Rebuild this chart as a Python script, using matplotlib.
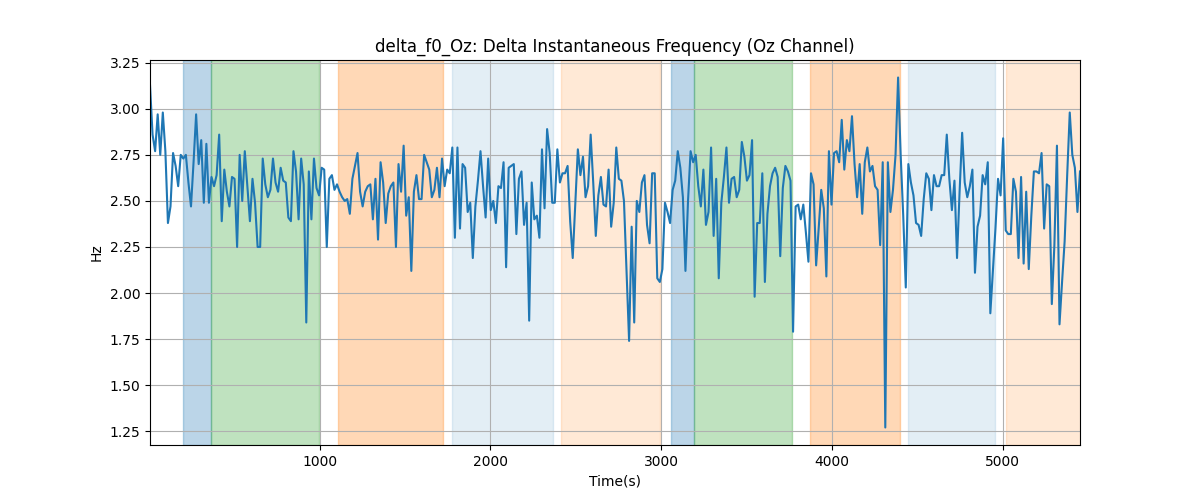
import numpy as np
import matplotlib
matplotlib.use('Agg')
import matplotlib.pyplot as plt

# delta f0 (Hz), one value every 15 s, read left to right
delta_f0 = [
    3.13, 2.86, 2.77, 2.97, 2.75, 2.98, 2.77, 2.38, 2.47, 2.76,
    2.69, 2.58, 2.75, 2.73, 2.75, 2.60, 2.47, 2.71, 2.97, 2.70,
    2.83, 2.49, 2.81, 2.49, 2.63, 2.58, 2.64, 2.86, 2.39, 2.67,
    2.55, 2.47, 2.63, 2.62, 2.25, 2.75, 2.50, 2.77, 2.58, 2.39,
    2.62, 2.49, 2.25, 2.25, 2.73, 2.59, 2.52, 2.56, 2.73, 2.60,
    2.55,
    2.68, 2.61, 2.60, 2.41, 2.39, 2.77, 2.66, 2.40, 2.73, 2.59,
    1.84, 2.66, 2.40, 2.73, 2.57, 2.53, 2.68, 2.67, 2.25, 2.62,
    2.64, 2.56, 2.59, 2.55, 2.52, 2.50, 2.51, 2.43, 2.62, 2.69,
    2.76, 2.55, 2.47, 2.55, 2.58, 2.59, 2.40, 2.62, 2.29, 2.71,
    2.60, 2.38, 2.54, 2.58, 2.60, 2.25, 2.70, 2.55, 2.80, 2.42,
    2.52, 2.12,
    2.55, 2.64, 2.51, 2.51, 2.75, 2.71, 2.67, 2.52, 2.56, 2.68,
    2.52, 2.73, 2.58, 2.67, 2.65, 2.79, 2.30, 2.79, 2.35, 2.70,
    2.68, 2.44, 2.49, 2.19, 2.47, 2.61, 2.77, 2.58, 2.41, 2.73,
    2.45, 2.50, 2.38, 2.58, 2.57, 2.71, 2.14, 2.68, 2.69, 2.70,
    2.32, 2.62, 2.66, 2.37, 2.49, 1.85, 2.60, 2.40, 2.42, 2.30,
    2.78,
    2.46, 2.89, 2.76, 2.49, 2.49, 2.78, 2.60, 2.65, 2.65, 2.69,
    2.39, 2.19, 2.49, 2.78, 2.64, 2.74, 2.52, 2.58, 2.86, 2.60,
    2.31, 2.53, 2.63, 2.48, 2.47, 2.67, 2.36, 2.49, 2.79, 2.62,
    2.61, 2.50, 2.12, 1.74, 2.36, 1.84, 2.50, 2.44, 2.60, 2.64,
    2.37, 2.27, 2.65, 2.65, 2.08, 2.06, 2.13, 2.49, 2.44, 2.38,
    2.56, 2.61,
    2.77, 2.68, 2.52, 2.12, 2.50, 2.77, 2.71, 2.75, 2.58, 2.47,
    2.67, 2.37, 2.44, 2.79, 2.31, 2.62, 2.08, 2.49, 2.63, 2.79,
    2.49, 2.62, 2.63, 2.52, 2.56, 2.82, 2.74, 2.61, 2.64, 2.83,
    1.98, 2.38, 2.38, 2.65, 2.06, 2.43, 2.58, 2.65, 2.68, 2.63,
    2.20, 2.57, 2.69, 2.66, 2.61, 1.79, 2.47, 2.48, 2.40, 2.48,
    2.33,
    2.17, 2.65, 2.59, 2.15, 2.35, 2.56, 2.46, 2.09, 2.77, 2.48,
    2.76, 2.77, 2.71, 2.94, 2.67, 2.83, 2.77, 2.96, 2.70, 2.52,
    2.70, 2.43, 2.71, 2.79, 2.66, 2.69, 2.58, 2.56, 2.26, 2.71,
    1.27, 2.71, 2.44, 2.56, 2.75, 3.17, 2.75, 2.42, 2.03, 2.70,
    2.60, 2.53, 2.38, 2.37, 2.31, 2.51, 2.65, 2.62, 2.45, 2.64,
    2.58, 2.58,
    2.64, 2.64, 2.86, 2.62, 2.45, 2.61, 2.19, 2.55, 2.87, 2.60,
    2.52, 2.58, 2.67, 2.11, 2.36, 2.42, 2.64, 2.59, 2.71, 1.89,
    2.12, 2.35, 2.62, 2.53, 2.84, 2.34, 2.32, 2.32, 2.62, 2.55,
    2.19, 2.63, 2.16, 2.55, 2.13, 2.42, 2.66, 2.66, 2.65, 2.76,
    2.35, 2.59, 2.58, 1.94, 2.26, 2.80, 1.83, 2.06, 2.28, 2.64,
    2.98, 2.75, 2.68, 2.44, 2.66,
]
t_start = 7.5
t_step = 15.0

# shaded segments (start, end, colour, alpha)
seg_start = [201, 367, 1106, 1778, 2411, 3056, 3192, 3869, 4445, 5021]
seg_end = [367, 997, 1723, 2366, 2995, 3192, 3769, 4396, 4955, 5460]
seg_color = ['tab:blue', 'tab:green', 'tab:orange', 'tab:blue', 'tab:orange',
             'tab:blue', 'tab:green', 'tab:orange', 'tab:blue', 'tab:orange']
seg_alpha = [0.3, 0.3, 0.3, 0.12, 0.17, 0.3, 0.3, 0.3, 0.12, 0.17]

times = t_start + t_step * np.arange(len(delta_f0))

plt.figure(figsize=(12, 5))
for s, e, c, a in zip(seg_start, seg_end, seg_color, seg_alpha):
    plt.axvspan(s, e, color=c, alpha=a)
plt.plot(times, delta_f0, color='tab:blue')

plt.xlim(times[0], times[-1])
plt.title("delta_f0_Oz: Delta Instantaneous Frequency (Oz Channel)")
plt.xlabel("Time(s)")
plt.ylabel("Hz")
plt.grid(True)

plt.savefig("out.png", dpi=100)
plt.close()
